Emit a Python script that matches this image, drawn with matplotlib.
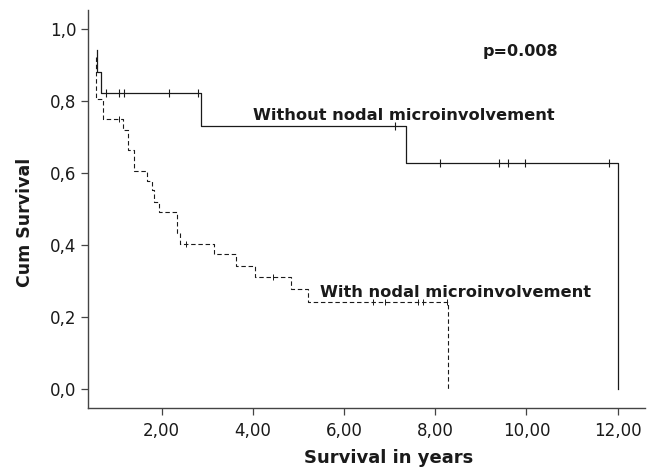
import numpy as np
import matplotlib
matplotlib.use("Agg")
import matplotlib.pyplot as plt

# Kaplan-Meier steps: event times (years) and cumulative survival after each step
without_t = [0.575, 0.575, 0.67, 2.86, 7.36, 12.0]
without_s = [0.942, 0.882, 0.824, 0.731, 0.628, 0.0]
without_cens = [0.78, 1.06, 1.17, 2.17, 2.80, 7.12, 8.10, 9.40, 9.59, 9.97, 11.82]

with_t = [0.55, 0.55, 0.706, 1.158, 1.254, 1.40, 1.67, 1.78, 1.82, 1.93,
          2.33, 2.40, 3.15, 3.62, 4.05, 4.83, 5.21, 8.28]
with_s = [0.924, 0.806, 0.75, 0.72, 0.664, 0.607, 0.579, 0.553, 0.52, 0.492,
          0.432, 0.402, 0.374, 0.342, 0.312, 0.277, 0.242, 0.0]
with_cens = [1.06, 2.53, 4.45, 6.64, 6.90, 7.63, 7.74, 8.25]

xticks = [2, 4, 6, 8, 10, 12]
yticks = [0.0, 0.2, 0.4, 0.6, 0.8, 1.0]

INK = "#1a1a1a"
AXC = "#444444"


def level_at(times, surv, t):
    i = np.searchsorted(times, t, side="right") - 1
    return surv[max(i, 0)]


fig = plt.figure(figsize=(6.61, 4.71), dpi=100)
ax = fig.add_axes([0.1336, 0.1331, 0.8422, 0.8457])

ax.step(without_t, without_s, where="post", color=INK, lw=0.9)
ax.plot(without_cens, [level_at(without_t, without_s, t) for t in without_cens],
        ls="none", marker="|", ms=6, mew=0.8, color=INK)

ax.step(with_t, with_s, where="post", color=INK, lw=0.8, ls=(0, (4, 2.5)))
ax.plot(with_cens, [level_at(with_t, with_s, t) for t in with_cens],
        ls="none", marker="|", ms=5, mew=0.7, color=INK)

ax.set_xlim(0.39, 12.6)
ax.set_ylim(-0.0545, 1.0537)
ax.set_xticks(xticks)
ax.set_xticklabels([f"{v:.2f}".replace(".", ",") for v in xticks])
ax.set_yticks(yticks)
ax.set_yticklabels([f"{v:.1f}".replace(".", ",") for v in yticks])

for side in ("top", "right"):
    ax.spines[side].set_visible(False)
for side in ("left", "bottom"):
    ax.spines[side].set_color(AXC)
    ax.spines[side].set_linewidth(1.0)
ax.tick_params(axis="both", direction="out", length=5, width=0.9, color=AXC,
               labelsize=12, labelcolor=INK)
ax.tick_params(axis="x", pad=4.5)
ax.tick_params(axis="y", pad=3.4)

ax.text(4.0, 0.7476, "Without nodal microinvolvement", fontsize=11.7,
        fontweight="bold", color=INK, ha="left", va="baseline")
ax.text(5.47, 0.256, "With nodal microinvolvement", fontsize=11.7,
        fontweight="bold", color=INK, ha="left", va="baseline")
ax.text(9.04, 0.9257, "p=0.008", fontsize=11.5, fontweight="bold",
        color=INK, ha="left", va="baseline")

fig.text(388.7 / 661, (471 - 463.3) / 471, "Survival in years", fontsize=13,
         fontweight="bold", color=INK, ha="center", va="baseline")
fig.text(25 / 661, (471 - 222.5) / 471, "Cum Survival", fontsize=12.5,
         fontweight="bold", color=INK, ha="center", va="center", rotation=90)

fig.savefig("out.png", dpi=100)
